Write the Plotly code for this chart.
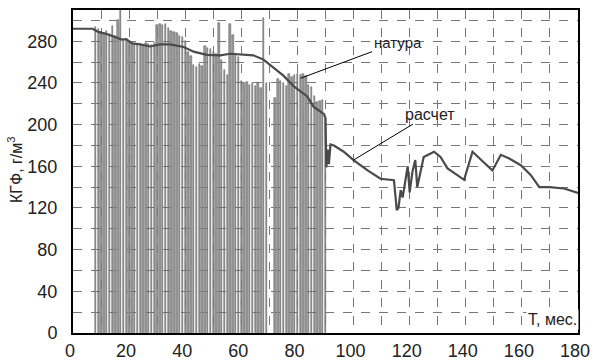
import plotly.graph_objects as go

# --- data -------------------------------------------------------------
bar_months = list(range(8, 70)) + list(range(72, 91))
bar_values = [294, 292, 289, 288, 290, 287, 295, 285, 300, 310,
              280, 282, 280, 278, 277, 276, 277, 276, 278, 277,
              276, 278, 296, 297, 296, 297, 293, 290, 289, 288,
              285, 284, 280, 270, 266, 257, 255, 258, 256, 275,
              274, 273, 270, 268, 298, 262, 252, 248, 297, 286,
              268, 265, 242, 240, 241, 238, 240, 237, 240, 235,
              302, 240,
              226, 244, 242, 240, 237, 249, 246, 248, 249, 248,
              249, 247, 238, 236, 227, 222, 223, 224, 205]

line_x = [0, 7, 9, 12, 15, 17.4, 19, 21, 24, 27.5, 31, 34.6, 39.4, 43, 47.7,
          52.5, 56, 59.6, 64.3, 67.9, 71.5, 75, 78.6, 83.5, 85.8, 89.5, 90,
          90.3, 90.8, 91.2, 91.8, 93, 96.5, 100, 105, 109.6, 114.4, 115.4,
          116, 116.8, 117.5, 119.3, 120, 121, 122, 122.7, 123.5, 125, 128.7,
          131, 133.5, 139.4, 142.4, 145.4, 149.5, 152.5, 155.5, 159.6, 163.2,
          166.2, 169.8, 175, 180]
line_y = [292, 292, 289, 287, 284, 281.6, 282, 278, 277, 275, 277, 277, 274.5,
          270, 267, 266.5, 268, 267.5, 266.5, 262.4, 255, 247, 237, 227, 217,
          210, 206, 159, 176, 162, 181, 180, 174, 166, 156, 148, 146.7, 118,
          120, 137, 130, 160, 135, 155, 166, 140, 150, 169, 174, 169, 158,
          147, 174, 166, 156, 171, 167.5, 161, 151.5, 140, 140, 138.7, 134.5]

x_ticks = [0, 20, 40, 60, 80, 100, 120, 140, 160, 180]
y_ticks = [0, 40, 80, 120, 160, 200, 240, 280]

label_nat = "натура"
label_calc = "расчет"
x_title = "T, мес."
y_title = "КГФ, г/м<sup>3</sup>"

# --- figure -----------------------------------------------------------
fig = go.Figure()
fig.add_trace(go.Bar(x=bar_months, y=bar_values, width=0.5,
                     marker=dict(color="#9c9c9c",
                                 line=dict(color="#555555", width=0.5)),
                     showlegend=False, hoverinfo="skip"))
fig.add_trace(go.Scatter(x=line_x, y=line_y, mode="lines",
                         line=dict(color="#4a4a4a", width=2.2),
                         showlegend=False, hoverinfo="skip"))

font = "Liberation Sans, Arial, sans-serif"
grid = dict(showgrid=True, gridcolor="#777777", griddash="dash", gridwidth=1)

fig.update_layout(
    width=594, height=361,
    margin=dict(l=73, r=16, t=10, b=28),
    paper_bgcolor="white", plot_bgcolor="white",
    font=dict(family=font, color="#222222", size=18),
    bargap=0,
    xaxis=dict(range=[0, 180], tickvals=x_ticks, **grid, automargin=False,
               minor=dict(dtick=10, tick0=0, showgrid=True, gridcolor="#777777",
                          griddash="dash", ticks=""),
               showline=True, linecolor="black", linewidth=2, mirror=True,
               ticks="", ticklabelstandoff=0, ticklabelshift=-3, zeroline=False,
               tickfont=dict(size=18)),
    yaxis=dict(range=[0, 310], tickvals=y_ticks, **grid, automargin=False,
               minor=dict(dtick=20, tick0=0, showgrid=True, gridcolor="#777777",
                          griddash="dash", ticks=""),
               showline=True, linecolor="black", linewidth=2, mirror=True,
               ticks="", ticklabelstandoff=10, zeroline=False,
               tickfont=dict(size=18)),
)

fig.add_annotation(x=81.1, y=244.5, xref="x", yref="y", text=label_nat,
                   showarrow=True, arrowhead=0, arrowwidth=1, arrowcolor="black",
                   ax=97, ay=-36, font=dict(size=15, color="#222222", family=font))
fig.add_annotation(x=100, y=166, xref="x", yref="y", text=label_calc,
                   showarrow=True, arrowhead=0, arrowwidth=1, arrowcolor="black",
                   ax=76, ay=-46, font=dict(size=16, color="#222222", family=font))
fig.add_annotation(x=180, y=12.5, xref="x", yref="y", text=x_title,
                   showarrow=False, xanchor="right", yanchor="middle",
                   bgcolor="white", xshift=1,
                   font=dict(size=16, color="#222222", family=font))
fig.add_annotation(x=(15 - 73) / 505, y=(333 - 170) / 323, xref="paper", yref="paper",
                   text=y_title, textangle=-90, showarrow=False,
                   xanchor="center", yanchor="middle",
                   font=dict(size=16, color="#222222", family=font))

fig.write_html("out.html", config={"displayModeBar": False},
               post_script="document.body.style.margin='0px';document.body.style.padding='0px';")
